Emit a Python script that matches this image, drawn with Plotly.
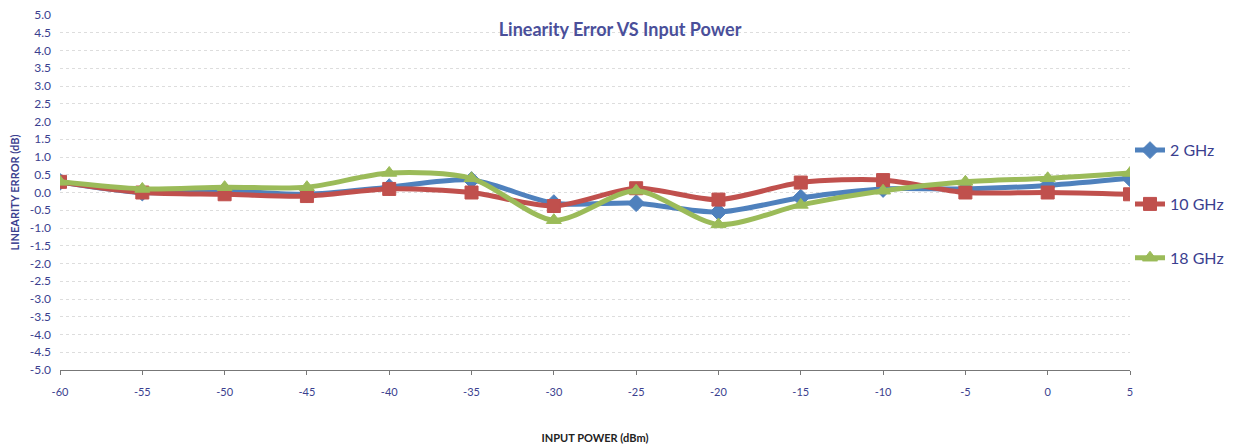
import plotly.graph_objects as go

input_power = [-60, -55, -50, -45, -40, -35, -30, -25, -20, -15, -10, -5, 0, 5]
err_2ghz = [0.30, 0.00, 0.05, -0.05, 0.15, 0.35, -0.30, -0.30, -0.55, -0.15, 0.10, 0.10, 0.20, 0.40]
err_10ghz = [0.30, 0.00, -0.05, -0.10, 0.10, 0.00, -0.38, 0.12, -0.20, 0.28, 0.35, 0.00, 0.00, -0.05]
err_18ghz = [0.30, 0.10, 0.15, 0.15, 0.55, 0.40, -0.78, 0.05, -0.90, -0.35, 0.05, 0.30, 0.40, 0.55]
y_ticks = [-5.0, -4.5, -4.0, -3.5, -3.0, -2.5, -2.0, -1.5, -1.0, -0.5,
           0.0, 0.5, 1.0, 1.5, 2.0, 2.5, 3.0, 3.5, 4.0, 4.5, 5.0]

series = [
    ("2 GHz", err_2ghz, "#4f81bd", "diamond"),
    ("10 GHz", err_10ghz, "#c0504d", "square"),
    ("18 GHz", err_18ghz, "#9bbb59", "triangle-up"),
]

fig = go.Figure()
for i, (name, vals, color, sym) in enumerate(series):
    fig.add_trace(go.Scatter(
        x=input_power, y=vals, name=name, mode="lines+markers",
        line=dict(color=color, width=5, shape="spline", smoothing=0.8),
        marker=dict(symbol=sym, size=13, color=color,
                    line=dict(color=color, width=1)),
        legendgroup=f"g{i}",
    ))

navy = "#3b3f8f"
fig.update_layout(
    width=1234, height=436,
    margin=dict(l=52, r=112, t=7, b=74, autoexpand=False),
    paper_bgcolor="white", plot_bgcolor="white",
    font=dict(family="Lato, 'Open Sans', sans-serif", color=navy),
    title=dict(text="<b>Linearity Error VS Input Power</b>", x=0.496, xanchor="center",
               y=0.95, yanchor="middle", yref="container", font=dict(size=18, color="#4a4f9a")),
    legend=dict(x=1.0, y=0.667, xanchor="left", yanchor="top",
                font=dict(size=16, color=navy), tracegroupgap=30,
                itemwidth=30, bgcolor="rgba(0,0,0,0)"),
    showlegend=True,
)
fig.update_xaxes(
    range=[-60, 5], tickvals=input_power, ticktext=[str(v) for v in input_power],
    showgrid=False, zeroline=False, showline=True, linecolor="#777777", linewidth=1,
    ticks="outside", tickcolor="#777777", ticklen=4, ticklabelstandoff=8,
    tickfont=dict(size=11, color=navy), automargin=False,
    title=dict(text="<b>INPUT POWER (dBm)</b>", font=dict(size=11, color="#222222"), standoff=42),
)
fig.update_yaxes(
    range=[-5.0001, 5.0001], tickvals=y_ticks, ticktext=[f"{v:.1f}" for v in y_ticks],
    ticklabeloverflow="allow",
    showgrid=True, gridcolor="#dddddd", griddash="dot", gridwidth=1,
    zeroline=False, showline=False, automargin=False,
    tickfont=dict(size=12, color=navy), ticklabelstandoff=8,
    title=dict(text="<b>LINEARITY ERROR (dB)</b>", font=dict(size=11, color=navy), standoff=16),
)

fig.write_html("out.html")
